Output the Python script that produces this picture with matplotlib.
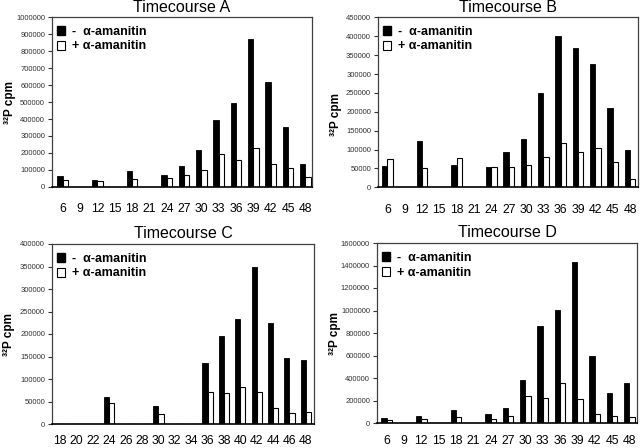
import matplotlib
matplotlib.use("Agg")
import matplotlib.pyplot as plt
from matplotlib.patches import Patch
import numpy as np

plt.rcParams['font.family'] = ['Liberation Sans', 'DejaVu Sans']

# ---- data ----
hours_abd = ["6", "9", "12", "15", "18", "21", "24", "27", "30", "33", "36", "39", "42", "45", "48"]
hours_c = ["18", "20", "22", "24", "26", "28", "30", "32", "34", "36", "38", "40", "42", "44", "46", "48"]

A_minus = [62000, 0, 42000, 0, 90000, 0, 68000, 122000, 214000, 394000, 494000, 870000, 620000, 350000, 134000]
A_plus = [38000, 0, 32000, 0, 48000, 0, 52000, 70000, 96000, 192000, 160000, 228000, 134000, 108000, 58000]

B_minus = [57000, 0, 124000, 0, 60000, 0, 55000, 93000, 127000, 250000, 400000, 368000, 328000, 210000, 100000]
B_plus = [74000, 0, 51000, 0, 78000, 0, 55000, 54000, 59000, 79000, 118000, 94000, 103000, 68000, 21000]

C_minus = [0, 0, 0, 59000, 0, 0, 41000, 0, 0, 135000, 196000, 234000, 350000, 225000, 147000, 142000]
C_plus = [0, 0, 0, 46000, 0, 0, 22000, 0, 0, 72000, 69000, 82000, 71000, 36000, 25000, 27000]

D_minus = [44000, 0, 65000, 0, 115000, 0, 82000, 131000, 384000, 861000, 1004000, 1430000, 600000, 271000, 355000]
D_plus = [29000, 0, 35000, 0, 53000, 0, 35000, 62000, 243000, 222000, 360000, 212000, 83000, 60000, 51000]

titles = ["Timecourse A", "Timecourse B", "Timecourse C", "Timecourse D"]
legend_labels = ["-  \u03b1-amanitin", "+ \u03b1-amanitin"]
ylabel = "\u00b3\u00b2P cpm"

W, H = 640, 448
fig = plt.figure(figsize=(6.4, 4.48), dpi=100)

def px_axes(l, t, r, b):
    return fig.add_axes([l / W, 1 - b / H, (r - l) / W, (b - t) / H])

panels = [
    dict(box=(52, 17.5, 312, 186.7), cats=hours_abd, minus=A_minus, plus=A_plus,
         ymax=1000000, ystep=100000, xoff=0.62, ylab=(-0.14, 0.5), leg=(0.02, 0.95), xpad=12),
    dict(box=(378, 17.5, 638, 187.3), cats=hours_abd, minus=B_minus, plus=B_plus,
         ymax=450000, ystep=50000, xoff=0.54, ylab=(-0.14, 0.43), leg=(0.02, 0.95), xpad=12),
    dict(box=(52, 244, 314, 424), cats=hours_c, minus=C_minus, plus=C_plus,
         ymax=400000, ystep=50000, xoff=0.5, ylab=(-0.14, 0.5), leg=(0.02, 0.95), xpad=8),
    dict(box=(377, 243, 637, 423), cats=hours_abd, minus=D_minus, plus=D_plus,
         ymax=1600000, ystep=200000, xoff=0.56, ylab=(-0.14, 0.5), leg=(0.02, 0.95), xpad=8.5),
]

bw = 0.31
for p, title in zip(panels, titles):
    ax = px_axes(*p['box'])
    n = len(p['cats'])
    x = np.arange(n)
    ax.bar(x - bw / 2, p['minus'], width=bw, color='black', edgecolor='black', linewidth=0.6)
    ax.bar(x + bw / 2, p['plus'], width=bw, color='white', edgecolor='black', linewidth=0.8)
    ax.set_xlim(-p['xoff'], n - p['xoff'])
    ax.set_ylim(0, p['ymax'])
    ax.set_yticks(np.arange(0, p['ymax'] + 1, p['ystep']))
    ax.set_yticklabels([str(int(v)) for v in np.arange(0, p['ymax'] + 1, p['ystep'])])
    ax.set_xticks(x)
    ax.set_xticklabels(p['cats'])
    ax.tick_params(axis='x', length=0, pad=p['xpad'], labelsize=8.8, colors='black')
    ax.tick_params(axis='y', length=3, width=0.8, pad=2, labelsize=5.5, labelcolor='#333333', color='#333333')
    for s in ['left', 'right', 'top']:
        ax.spines[s].set_color('#404040')
        ax.spines[s].set_linewidth(0.9)
    ax.spines['bottom'].set_color('black')
    ax.spines['bottom'].set_linewidth(1.2)
    ax.set_title(title, fontsize=11.5, pad=4)
    ax.set_ylabel(ylabel, fontsize=8.5, fontweight='bold')
    ax.yaxis.set_label_coords(*p['ylab'])
    handles = [Patch(facecolor='black', edgecolor='black'),
               Patch(facecolor='white', edgecolor='black', linewidth=0.8)]
    ax.legend(handles, legend_labels, loc='upper left', bbox_to_anchor=p['leg'],
              frameon=False, prop={'size': 9, 'weight': 'bold'},
              handlelength=0.6, handleheight=0.75, handletextpad=0.6,
              labelspacing=0.2, borderpad=0, borderaxespad=0)

fig.savefig("out.png", dpi=100)
